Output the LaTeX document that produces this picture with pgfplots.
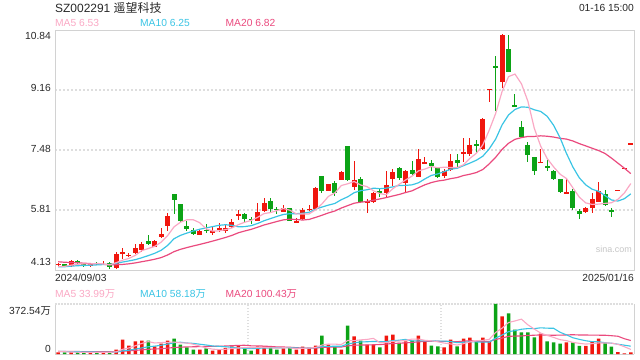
\documentclass[border=0pt]{standalone}
\usepackage{pgfplots}
\usepackage{pgfplotstable}
\pgfplotsset{compat=1.18}
\usepackage{fontspec}
\setmainfont{Liberation Sans}
\newfontfamily\cjk{Noto Sans CJK SC}
\definecolor{upc}{RGB}{240,22,14}
\definecolor{dnc}{RGB}{12,163,22}
\definecolor{ma5c}{RGB}{250,168,196}
\definecolor{ma10c}{RGB}{58,196,228}
\definecolor{ma20c}{RGB}{234,74,126}
\definecolor{framec}{RGB}{210,210,210}
\definecolor{gridc}{RGB}{222,222,222}
\definecolor{txt}{RGB}{40,40,40}
\newcommand\sm{\fontsize{10.3}{12}\selectfont}

% red (up) candles: index open high low close volume
\pgfplotstableread{
i o h l c v
0 4.28 4.33 4.25 4.30 12
2 4.24 4.41 4.22 4.38 12
5 4.27 4.33 4.22 4.29 12
7 4.29 4.37 4.27 4.30 12
9 4.19 4.63 4.16 4.57 32
10 4.59 4.75 4.45 4.64 107
11 4.54 4.60 4.49 4.55 62
12 4.60 4.85 4.59 4.74 94
13 4.69 4.92 4.64 4.86 99
15 4.78 4.97 4.76 4.94 57
16 5.04 5.30 5.02 5.14 77
17 5.37 5.71 5.22 5.64 99
22 5.12 5.26 5.10 5.23 32
24 5.16 5.34 5.11 5.22 25
25 5.28 5.43 5.20 5.30 32
26 5.23 5.41 5.16 5.31 45
27 5.34 5.55 5.31 5.47 57
28 5.64 5.81 5.53 5.69 65
31 5.51 5.99 5.50 5.75 57
32 5.79 6.14 5.76 5.99 57
35 5.76 5.95 5.76 5.85 42
37 5.47 5.58 5.44 5.48 32
38 5.55 5.87 5.53 5.81 55
39 5.83 5.95 5.79 5.84 47
40 5.84 6.45 5.83 6.42 62
42 6.34 6.54 6.33 6.53 70
44 6.65 6.91 6.65 6.88 32
46 6.46 7.19 6.37 6.66 132
48 5.99 6.11 5.73 6.07 70
49 6.04 6.32 6.01 6.29 70
51 6.27 6.91 6.18 6.50 137
52 6.67 6.95 6.48 6.88 144
54 6.55 6.92 6.29 6.90 94
56 6.74 7.50 6.72 7.23 137
57 7.12 7.30 7.09 7.13 99
60 6.76 6.95 6.71 6.90 50
61 6.93 7.37 6.91 7.18 107
63 7.37 7.81 7.15 7.43 114
64 7.36 7.81 7.31 7.62 122
66 7.51 8.37 7.48 8.35 122
67 9.17 9.19 8.82 9.19 94
69 9.39 10.73 9.23 10.70 281
75 7.13 7.50 7.13 7.15 152
79 6.28 6.69 6.25 6.30 87
82 5.76 5.89 5.73 5.87 60
83 5.87 6.27 5.71 6.11 92
84 6.04 6.60 6.04 6.34 114
87 6.36 6.36 6.36 6.36 14
88 6.98 6.98 6.98 6.98 4
89 7.66 7.66 7.66 7.66 12
}\uptab

% green (down) candles
\pgfplotstableread{
i o h l c v
1 4.29 4.31 4.20 4.23 12
3 4.38 4.42 4.30 4.33 12
4 4.28 4.33 4.22 4.27 12
6 4.33 4.35 4.26 4.30 12
8 4.32 4.34 4.15 4.21 12
14 4.95 5.11 4.83 4.86 99
18 6.25 6.26 5.69 6.10 114
19 5.97 5.98 5.48 5.51 70
20 5.37 5.51 5.23 5.28 50
21 5.25 5.30 5.12 5.14 32
23 5.24 5.41 5.16 5.23 42
29 5.70 5.73 5.43 5.56 42
30 5.56 5.60 5.42 5.55 25
33 6.06 6.14 5.76 5.83 47
34 5.84 5.90 5.70 5.83 32
36 5.86 5.87 5.49 5.51 47
41 6.76 6.76 6.29 6.34 137
43 6.57 6.62 6.20 6.29 52
45 7.60 7.60 6.63 6.66 211
47 6.67 6.74 6.04 6.04 99
50 6.35 6.41 6.18 6.27 50
53 6.98 7.00 6.66 6.69 82
55 6.93 7.18 6.79 6.81 99
58 7.13 7.20 6.91 7.04 62
59 7.02 7.02 6.70 6.72 57
62 7.20 7.38 7.02 7.13 57
65 7.65 7.76 7.39 7.61 94
68 9.83 10.12 8.58 9.77 372.54
70 10.31 10.70 9.67 9.67 303
71 8.73 9.04 8.70 8.71 181
72 8.12 8.29 7.84 7.84 161
73 7.62 7.72 7.16 7.34 161
74 7.29 7.29 6.79 6.91 124
76 7.02 7.20 6.91 7.00 94
77 6.90 6.92 6.64 6.67 87
78 6.68 6.68 6.27 6.32 77
80 6.34 6.40 5.80 5.85 86
81 5.78 5.84 5.55 5.69 60
85 6.25 6.37 5.93 5.95 85
86 5.80 5.87 5.62 5.78 55
}\dntab

% moving averages: price MA5 MA10 MA20, volume MA5 MA10 MA20
\pgfplotstableread{
i a5 a10 a20 v5 v10 v20
0 4.228 4.219 4.360 18.4 19.2 19.6
1 4.232 4.221 4.346 16.8 18.4 19.2
2 4.266 4.238 4.340 15.2 17.6 18.8
3 4.290 4.250 4.332 13.6 16.8 18.4
4 4.302 4.256 4.320 12.0 16.0 18.0
5 4.300 4.264 4.310 12.0 15.2 17.6
6 4.314 4.273 4.300 12.0 14.4 17.2
7 4.298 4.282 4.290 12.0 13.6 16.8
8 4.274 4.282 4.275 12.0 12.8 16.4
9 4.334 4.318 4.279 16.0 14.0 17.0
10 4.404 4.352 4.286 35.0 23.5 21.35
11 4.454 4.384 4.303 45.0 28.5 23.45
12 4.542 4.420 4.329 61.4 36.7 27.15
13 4.672 4.473 4.362 78.8 45.4 31.1
14 4.730 4.532 4.394 92.2 54.1 35.05
15 4.790 4.597 4.431 82.2 58.6 36.9
16 4.908 4.681 4.477 85.2 65.1 39.75
17 5.088 4.815 4.549 86.2 73.8 43.7
18 5.336 5.004 4.643 89.2 84.0 48.4
19 5.466 5.098 4.708 83.4 87.8 50.9
20 5.534 5.162 4.757 82.0 82.1 52.8
21 5.534 5.221 4.803 73.0 79.1 53.8
22 5.452 5.270 4.845 59.6 72.9 54.8
23 5.278 5.307 4.890 45.2 67.2 56.3
24 5.220 5.343 4.938 36.2 59.8 56.95
25 5.224 5.379 4.988 32.6 57.3 57.95
26 5.258 5.396 5.039 35.2 54.1 59.6
27 5.306 5.379 5.097 40.2 49.9 61.85
28 5.398 5.338 5.171 44.8 45.0 64.5
29 5.466 5.343 5.221 48.2 42.2 65.0
30 5.516 5.370 5.266 46.8 39.7 60.9
31 5.604 5.431 5.326 49.2 42.2 60.65
32 5.708 5.507 5.389 49.2 44.7 58.8
33 5.736 5.567 5.437 45.6 45.2 56.2
34 5.790 5.628 5.486 43.6 45.9 52.85
35 5.850 5.683 5.531 47.0 46.9 52.1
36 5.802 5.703 5.550 45.0 47.1 50.6
37 5.700 5.704 5.542 40.0 44.6 47.25
38 5.696 5.716 5.527 41.6 43.6 44.3
39 5.698 5.744 5.544 44.6 44.1 43.15
40 5.812 5.831 5.601 48.6 47.8 43.75
41 5.978 5.890 5.661 66.6 55.8 49.0
42 6.188 5.944 5.726 74.2 57.1 50.9
43 6.284 5.990 5.779 73.6 57.6 51.4
44 6.492 6.095 5.862 70.6 57.6 51.75
45 6.540 6.176 5.930 100.4 74.5 60.7
46 6.604 6.291 5.997 99.4 83.0 65.05
47 6.506 6.347 6.026 105.2 89.7 67.15
48 6.462 6.373 6.045 108.8 91.2 67.4
49 6.344 6.418 6.081 116.4 93.5 68.8
50 6.266 6.403 6.117 84.2 92.3 70.05
51 6.234 6.419 6.155 85.2 92.3 74.05
52 6.402 6.454 6.199 94.2 99.7 78.4
53 6.526 6.494 6.242 96.6 102.7 80.15
54 6.648 6.496 6.296 101.4 108.9 83.25
55 6.756 6.511 6.344 111.2 97.7 86.1
56 6.902 6.568 6.430 111.2 98.2 90.6
57 6.952 6.677 6.512 102.2 98.2 93.95
58 7.022 6.774 6.574 98.2 97.4 94.3
59 6.986 6.817 6.618 90.8 96.1 94.8
60 7.004 6.880 6.642 81.0 96.1 94.2
61 6.994 6.948 6.684 75.0 93.1 92.7
62 6.994 6.973 6.714 66.6 84.4 92.05
63 7.072 7.047 6.771 77.0 87.6 95.15
64 7.252 7.119 6.808 90.0 90.4 99.65
65 7.394 7.199 6.855 98.8 89.9 93.8
66 7.628 7.311 6.940 101.8 88.4 93.3
67 8.040 7.517 7.097 109.2 87.9 93.05
68 8.508 7.790 7.282 160.9 118.95 108.2
69 9.124 8.188 7.503 192.7 141.35 118.7
70 9.536 8.465 7.673 234.5 166.65 131.4
71 9.608 8.618 7.783 246.3 174.05 133.6
72 9.338 8.689 7.831 259.7 184.45 134.4
73 8.852 8.680 7.864 217.4 189.15 138.4
74 8.094 8.609 7.864 186.0 189.35 139.9
75 7.590 8.563 7.881 155.8 195.15 142.5
76 7.248 8.428 7.870 138.4 192.35 140.4
77 7.014 8.176 7.847 123.6 191.65 139.8
78 6.810 7.831 7.811 106.8 162.1 140.5
79 6.688 7.391 7.790 99.4 142.7 142.0
80 6.428 7.009 7.737 86.2 121.0 143.8
81 6.166 6.707 7.663 79.4 108.9 141.5
82 6.006 6.510 7.600 74.0 98.8 141.6
83 5.964 6.387 7.534 77.0 91.9 140.5
84 5.972 6.330 7.470 82.4 90.9 140.1
85 5.992 6.210 7.387 82.2 84.2 139.7
86 6.010 6.088 7.258 81.2 80.3 136.3
87 6.108 6.057 7.117 72.0 73.0 132.3
88 6.282 6.123 6.977 54.4 65.7 113.9
89 6.546 6.259 6.825 34.0 58.2 100.45
}\matab

\pgfplotsset{
  candle/.style 2 args={draw=none, mark=none, forget plot,
    error bars/.cd, y dir=both, y explicit, error mark=none,
    error bar style={draw=#1, line width=#2}},
}

\begin{document}
\begin{tikzpicture}
\useasboundingbox (0,0) rectangle (640bp,360bp);
% ---------- price panel ----------
\begin{axis}[at={(55bp,90bp)}, anchor=south west, scale only axis,
  width=579bp, height=240bp,
  xmin=-0.5, xmax=89.5, ymin=4.13, ymax=10.84,
  xtick=\empty, ytick={5.81,7.48,9.16}, yticklabels={},
  major tick length=0pt, ymajorgrids,
  grid style={gridc, line width=1.4bp, dash pattern=on 2bp off 2bp},
  axis line style={framec, line width=0.9bp}]
% wicks
\addplot[candle={upc}{1bp}]
  table[x=i, y expr=(\thisrow{h}+\thisrow{l})/2, y error expr=(\thisrow{h}-\thisrow{l})/2] {\uptab};
\addplot[candle={dnc}{1bp}]
  table[x=i, y expr=(\thisrow{h}+\thisrow{l})/2, y error expr=(\thisrow{h}-\thisrow{l})/2] {\dntab};
% bodies
\addplot[candle={upc}{5bp}]
  table[x=i, y expr=(\thisrow{o}+\thisrow{c})/2, y error expr={max(abs(\thisrow{c}-\thisrow{o})/2,0.014)}] {\uptab};
\addplot[candle={dnc}{5bp}]
  table[x=i, y expr=(\thisrow{o}+\thisrow{c})/2, y error expr={max(abs(\thisrow{c}-\thisrow{o})/2,0.014)}] {\dntab};
% moving averages
\addplot[ma20c, line width=1.2bp, no marks] table[x=i, y=a20] {\matab};
\addplot[ma10c, line width=1.2bp, no marks] table[x=i, y=a10] {\matab};
\addplot[ma5c, line width=1.2bp, no marks] table[x=i, y=a5] {\matab};
\end{axis}
% ---------- volume panel ----------
\begin{axis}[at={(55bp,6bp)}, anchor=south west, scale only axis,
  width=579bp, height=50bp,
  xmin=-0.5, xmax=89.5, ymin=0, ymax=372.54, hide axis, clip=false]
\draw[framec, line width=0.9bp] (axis cs:-0.5,0) -- (axis cs:-0.5,372.54);
\draw[framec, line width=0.9bp] (axis cs:89.5,0) -- (axis cs:89.5,372.54);
\draw[framec, line width=0.9bp] (axis cs:-0.5,0) -- (axis cs:89.5,0);
\draw[gridc, line width=1.2bp, dash pattern=on 1.5bp off 1.5bp] (axis cs:-0.5,372.54) -- (axis cs:89.5,372.54);
\draw[gridc, line width=1.2bp, dash pattern=on 1.5bp off 1.5bp] (axis cs:29.5,0) -- (axis cs:29.5,372.54);
\draw[gridc, line width=1.2bp, dash pattern=on 1.5bp off 1.5bp] (axis cs:59.5,0) -- (axis cs:59.5,372.54);
\addplot[ybar, bar width=3.5bp, bar shift=0pt, fill=upc, draw=none] table[x=i, y=v] {\uptab};
\addplot[ybar, bar width=3.5bp, bar shift=0pt, fill=dnc, draw=none] table[x=i, y=v] {\dntab};
\addplot[ma20c, line width=1.1bp, no marks] table[x=i, y=v20] {\matab};
\addplot[ma10c, line width=1.1bp, no marks] table[x=i, y=v10] {\matab};
\addplot[ma5c, line width=1.1bp, no marks] table[x=i, y=v5] {\matab};
\end{axis}
% ---------- texts ----------
\node[anchor=base west, inner sep=0, text=txt, font=\fontsize{12}{14}\selectfont] at (55bp,347.7bp) {SZ002291 {\cjk 遥望科技}};
\node[anchor=base east, inner sep=0, text=txt, font=\sm] at (634bp,348bp) {01-16 15:00};
\node[anchor=base west, inner sep=0, text=ma5c, font=\sm] at (55bp,333.3bp) {MA5 6.53};
\node[anchor=base west, inner sep=0, text=ma10c, font=\sm] at (140bp,333.3bp) {MA10 6.25};
\node[anchor=base west, inner sep=0, text=ma20c, font=\sm] at (225.5bp,333.3bp) {MA20 6.82};
\node[anchor=base east, inner sep=0, text=txt, font=\sm] at (51bp,320.7bp) {10.84};
\node[anchor=base east, inner sep=0, text=txt, font=\sm] at (51bp,268.3bp) {9.16};
\node[anchor=base east, inner sep=0, text=txt, font=\sm] at (51bp,207.3bp) {7.48};
\node[anchor=base east, inner sep=0, text=txt, font=\sm] at (51bp,147.3bp) {5.81};
\node[anchor=base east, inner sep=0, text=txt, font=\sm] at (51bp,94.3bp) {4.13};
\node[anchor=base east, inner sep=0, text=gray!45, font=\fontsize{9}{10}\selectfont] at (632bp,107bp) {sina.com};
\node[anchor=base west, inner sep=0, text=txt, font=\sm] at (55bp,78.3bp) {2024/09/03};
\node[anchor=base east, inner sep=0, text=txt, font=\sm] at (634bp,78.3bp) {2025/01/16};
\node[anchor=base west, inner sep=0, text=ma5c, font=\sm] at (55bp,62bp) {MA5 33.99{\cjk 万}};
\node[anchor=base west, inner sep=0, text=ma10c, font=\sm] at (140bp,62bp) {MA10 58.18{\cjk 万}};
\node[anchor=base west, inner sep=0, text=ma20c, font=\sm] at (225.5bp,62bp) {MA20 100.43{\cjk 万}};
\node[anchor=base east, inner sep=0, text=txt, font=\sm] at (51bp,45bp) {372.54{\cjk 万}};
\node[anchor=base east, inner sep=0, text=txt, font=\sm] at (51bp,8bp) {0};
\end{tikzpicture}
\end{document}
